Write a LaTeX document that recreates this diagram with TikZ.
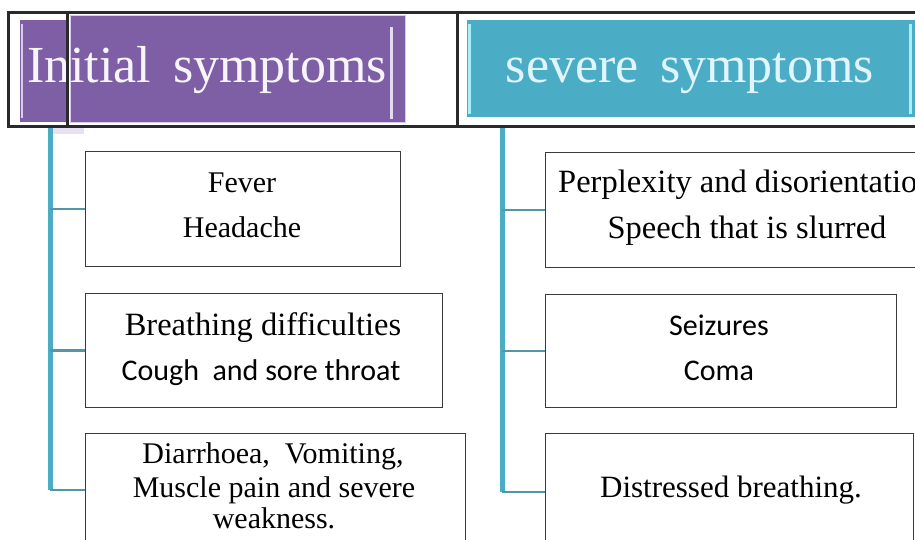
\documentclass[tikz,border=0pt]{standalone}
\usepackage{fontspec}
\setmainfont{Liberation Serif}
\newfontfamily\calfont{Carlito}
\definecolor{purp}{HTML}{7E5FA6}
\definecolor{lav}{HTML}{D8CCEA}
\definecolor{teal}{HTML}{4BACC6}
\definecolor{lcyan}{HTML}{A8F0FA}
\definecolor{frame}{HTML}{2A2A2E}
\definecolor{boxline}{HTML}{3A3A3A}
\definecolor{tick}{HTML}{5296A8}
\begin{document}
\begin{tikzpicture}[x=1pt,y=1pt,
  itembox/.style={draw=boxline,line width=1.3pt,fill=white,anchor=north west,inner sep=0,rectangle},
  txt/.style={inner sep=0,anchor=base,font=\fontsize{30}{36}\selectfont},
  ctxt/.style={inner sep=0,anchor=base,font=\calfont\fontsize{30}{36}\selectfont},
  mtxt/.style={inner sep=0,anchor=base,font=\fontsize{32.5}{38}\selectfont},
  headtxt/.style={inner sep=0,anchor=base,font=\fontsize{52}{60}\selectfont},
  spine/.style={draw=teal,line width=5pt},
  branch/.style={draw=tick,line width=2.5pt},
  blackframe/.style={draw=frame,line width=3pt}]
\useasboundingbox (0,0) rectangle (915,-540);
\clip (0,0) rectangle (915,-540);

% banners
\fill[purp] (20,-20) rectangle (67,-122);
\draw[lav,line width=2pt] (22,-24) -- (22,-118);
\node[fill=purp,draw=lav,line width=1pt,anchor=north west,inner sep=0,minimum width=335,minimum height=107] (hp) at (70,-15) {};
\draw[lav!70!white,line width=3pt] (391,-27) -- (391,-119);
\node[fill=teal,anchor=north west,inner sep=0,minimum width=460,minimum height=97] (hb) at (467,-20) {};
\draw[lcyan,line width=3pt] (469,-24) -- (469,-114);
\draw[lcyan,line width=3pt] (910,-24) -- (910,-114);

\node[headtxt,text=white!94!purp] (h1) at (207,-83) {Initial\, symptoms};
\node[headtxt,text=white!88!cyan] (h2) at (690,-83) {severe\, symptoms};

% black frames
\draw[blackframe] (8,-13) rectangle (457,-127);
\draw[blackframe] (67,-13) -- (67,-127);
\draw[blackframe] (457,-13) rectangle (925,-127);

% left spine
\fill[lav!60!white] (52,-128) rectangle (84,-134);
\coordinate (lt) at (50,-128);
\coordinate (lb) at (50,-490);
\coordinate (rt) at (502,-128);
\coordinate (rb) at (502,-492);

% boxes left
\node[itembox,minimum width=315,minimum height=115] (l1) at (85,-151) {};
\node[itembox,minimum width=357,minimum height=114] (l2) at (85,-293) {};
\node[itembox,minimum width=380,minimum height=130] (l3) at (85,-433) {};
% boxes right
\node[itembox,minimum width=400,minimum height=115] (r1) at (545,-152) {};
\node[itembox,minimum width=351,minimum height=113] (r2) at (545,-294) {};
\node[itembox,minimum width=368,minimum height=130] (r3) at (545,-433) {};

% spines and branches
\draw[spine] (lt) -- (lb);
\draw[branch] (l1.west -| lt) -- (l1.west);
\draw[branch] (l2.west -| lt) -- (l2.west);
\draw[branch] (lb) -- (lb -| l3.west);
\draw[spine] (rt) -- (rb);
\draw[branch] (r1.west -| rt) -- (r1.west);
\draw[branch] (r2.west -| rt) -- (r2.west);
\draw[branch] (rb) -- (rb -| r3.west);

% texts left
\node[txt] (t1) at (242,-193) {Fever};
\node[txt] (t2) at (242,-237) {Headache};
\node[mtxt] (t3) at (263,-335) {Breathing difficulties};
\node[ctxt] (t4) at (261,-380) {Cough\ \ and sore throat};
\node[txt] (t5) at (273,-463) {Diarrhoea,\ \ Vomiting,};
\node[txt] (t6) at (274,-497) {Muscle pain and severe};
\node[txt] (t7) at (274,-528) {weakness.};
% texts right
\node[mtxt,anchor=base west] (u1) at (558,-193) {Perplexity and disorientation};
\node[mtxt] (u2) at (747,-238) {Speech that is slurred};
\node[ctxt] (u3) at (719,-335) {Seizures};
\node[ctxt] (u4) at (719,-380) {Coma};
\node[txt,font=\fontsize{31}{36}\selectfont] (u5) at (731,-497) {Distressed breathing.};
\end{tikzpicture}
\end{document}
